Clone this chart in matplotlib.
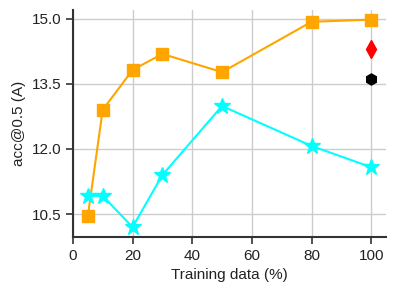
import matplotlib
matplotlib.use("Agg")
import matplotlib.pyplot as plt

x = [5, 10, 20, 30, 50, 80, 100]
orange_vals = [10.45, 12.90, 13.82, 14.19, 13.77, 14.93, 14.98]
cyan_vals = [10.92, 10.92, 10.20, 11.40, 12.99, 12.07, 11.58]
red_x, red_y = [100], [14.31]
black_x, black_y = [100], [13.62]
yticks = [10.5, 12.0, 13.5, 15.0]
xticks = [0, 20, 40, 60, 80, 100]

plt.rcParams['font.family'] = ['Liberation Sans', 'DejaVu Sans']
fig = plt.figure(figsize=(3.96, 2.96), dpi=100)
ax = fig.add_axes([0.184, 0.199, 0.791, 0.767])

ax.plot(x, orange_vals, color='orange', marker='s', markersize=9, linewidth=1.5, zorder=3)
ax.plot(x, cyan_vals, color='cyan', marker='*', markersize=12, linewidth=1.5, zorder=3)
ax.plot(red_x, red_y, color='red', marker='d', markersize=9, linestyle='none', zorder=3)
ax.plot(black_x, black_y, color='black', marker='h', markersize=8, linestyle='none', zorder=3)

ax.set_xlim(0, 105)
ax.set_ylim(9.97, 15.2)
ax.set_xticks(xticks)
ax.set_yticks(yticks)
ax.set_yticklabels([f"{v:.1f}" for v in yticks])
ax.grid(True, color='#cccccc', linewidth=1)
ax.set_axisbelow(True)
for s in ['top', 'right']:
    ax.spines[s].set_visible(False)
for s in ['left', 'bottom']:
    ax.spines[s].set_color('#333333')
    ax.spines[s].set_linewidth(1.5)
ax.tick_params(axis='both', direction='out', length=5, width=1.2, color='#333333', labelsize=11, labelcolor='#222222')
ax.set_xlabel('Training data (%)', fontsize=11, color='#222222')
ax.set_ylabel('acc@0.5 (A)', fontsize=11, color='#222222')

fig.savefig('out.png', dpi=100)
